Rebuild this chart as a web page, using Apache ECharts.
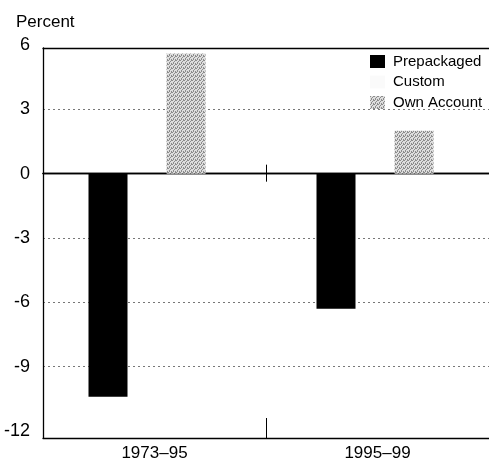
<!DOCTYPE html>
<html>
<head>
<meta charset="utf-8">
<script src="https://cdn.jsdelivr.net/npm/echarts@6/dist/echarts.min.js"></script>
<style>html,body{margin:0;padding:0;background:#fff}#c{width:489px;height:469px}</style>
</head>
<body>
<div id="c"></div>
<script>
const categories = ['1973\u201395', '1995\u201399'];
const prepackaged = [-10.4, -6.3];
const custom = [0, 0];
const ownAccount = [5.6, 2.0];
const yTicks = [-12, -9, -6, -3, 0, 3, 6];

function makePattern() {
  const c = document.createElement('canvas');
  c.width = 4; c.height = 4;
  const g = c.getContext('2d');
  g.fillStyle = '#dedede'; g.fillRect(0, 0, 4, 4);
  g.fillStyle = '#8c8c8c';
  [[0,0],[2,1],[1,2],[3,3],[3,0],[1,3]].forEach(p => g.fillRect(p[0], p[1], 1, 1));
  return c;
}
const pat = { image: makePattern(), repeat: 'repeat' };

const font = 'Liberation Sans, Arial, Helvetica, sans-serif';
const chart = echarts.init(document.getElementById('c'), null, { renderer: 'canvas' });
const yMin = yTicks[0], yMax = yTicks[yTicks.length - 1];
const black = { color: '#000', width: 1.3 };
chart.setOption({
  animation: false,
  backgroundColor: '#fff',
  textStyle: { fontFamily: font, color: '#000' },
  title: { text: 'Percent', left: 11, top: 9, textStyle: { fontFamily: font, fontSize: 17, fontWeight: 'normal', color: '#000' } },
  legend: {
    orient: 'vertical', left: 370, top: 54, padding: 0, itemWidth: 15, itemHeight: 13, itemGap: 5.5,
    icon: 'rect',
    textStyle: { fontFamily: font, fontSize: 15, lineHeight: 13, color: '#000', padding: [0,0,0,3] },
    data: ['Prepackaged', 'Custom', 'Own Account']
  },
  grid: [
    { left: 43, right: 0, top: 48, bottom: 31 },
    { left: 33, width: 462, top: 45, bottom: 38 },
    { left: 43, right: 0, top: 45, bottom: 38 }
  ],
  xAxis: [
    { gridIndex: 0, type: 'category', data: categories, position: 'bottom', axisLine: { onZero: false, lineStyle: black },
      axisTick: { show: true, inside: true, length: 20, lineStyle: { color: '#000' } },
      axisLabel: { fontFamily: font, fontSize: 17, color: '#000', margin: 7 } },
    { gridIndex: 2, type: 'category', data: categories, position: 'bottom', axisLine: { onZero: true, onZeroAxisIndex: 2, lineStyle: black },
      axisTick: { show: true, length: 8, lineStyle: { color: '#000' } }, axisLabel: { show: false } },
    { gridIndex: 2, type: 'category', data: categories, position: 'bottom', axisLine: { onZero: true, onZeroAxisIndex: 3, lineStyle: black },
      axisTick: { show: true, inside: true, length: 9, lineStyle: { color: '#000' } }, axisLabel: { show: false } },
    { gridIndex: 0, type: 'category', data: categories, position: 'top', axisLine: { onZero: false, lineStyle: black },
      axisTick: { show: false }, axisLabel: { show: false } },
    { gridIndex: 1, type: 'category', data: categories, show: false }
  ],
  yAxis: [
    { gridIndex: 0, type: 'value', min: yMin, max: yMax, interval: 3,
      axisLine: { show: true, lineStyle: black }, axisTick: { show: false },
      axisLabel: { show: false }, splitLine: { show: false } },
    { gridIndex: 1, type: 'value', min: yMin, max: yMax, interval: 3, show: false, splitLine: { show: false } },
    { gridIndex: 2, type: 'value', min: yMin, max: yMax, interval: 3,
      axisLine: { show: false }, axisTick: { show: false },
      axisLabel: { fontFamily: font, fontSize: 18, color: '#000', margin: 13 },
      splitLine: { show: true, showMinLine: false, showMaxLine: false, lineStyle: { color: '#777', type: [2, 3], width: 1 } } },
    { gridIndex: 2, type: 'value', min: yMin, max: yMax, interval: 3, position: 'right',
      axisLine: { show: false }, axisTick: { show: false }, axisLabel: { show: false }, splitLine: { show: false } }
  ],
  series: [
    { name: 'Prepackaged', type: 'bar', xAxisIndex: 4, yAxisIndex: 1, data: prepackaged, barWidth: 39, barGap: '0%', itemStyle: { color: '#000' } },
    { name: 'Custom', type: 'bar', xAxisIndex: 4, yAxisIndex: 1, data: custom, barWidth: 39, barGap: '0%', itemStyle: { color: '#fafafa' } },
    { name: 'Own Account', type: 'bar', xAxisIndex: 4, yAxisIndex: 1, data: ownAccount, barWidth: 39, barGap: '0%', itemStyle: { color: pat } }
  ]
});
</script>
</body>
</html>
